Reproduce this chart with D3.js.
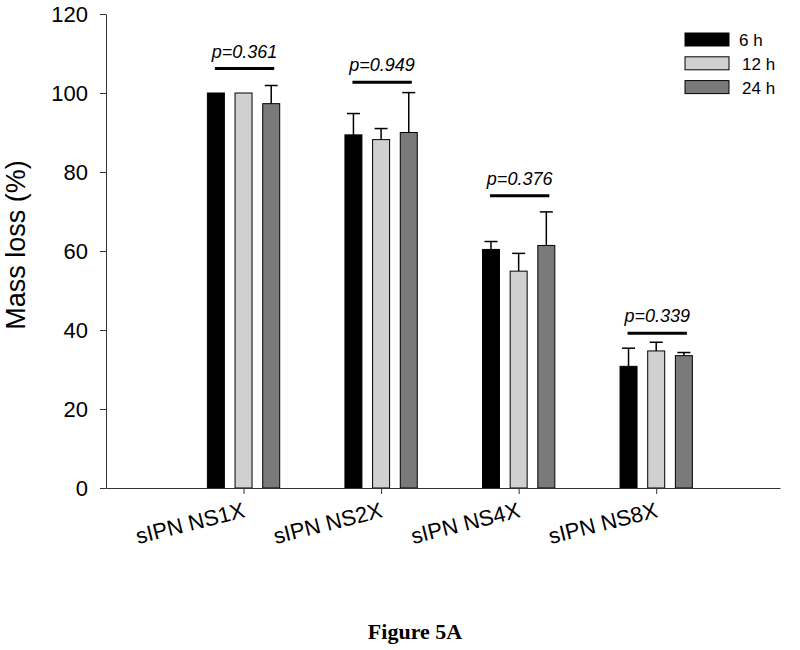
<!DOCTYPE html>
<html><head><meta charset="utf-8">
<script src="https://cdn.jsdelivr.net/npm/d3@7"></script>
<style>body{margin:0;background:#fff}svg{display:block}</style>
</head><body>
<svg id="c" width="800" height="650"></svg>
<script>
const categories = ["sIPN NS1X", "sIPN NS2X", "sIPN NS4X", "sIPN NS8X"];
const seriesNames = ["6 h", "12 h", "24 h"];
const values6h  = [100, 89.4, 60.4, 30.8];
const values12h = [100, 88.2, 54.9, 34.7];
const values24h = [97.3, 90.0, 61.4, 33.5];
const err6h  = [0, 5.4, 2.0, 4.6];
const err12h = [0, 2.8, 4.5, 2.2];
const err24h = [4.6, 10.1, 8.5, 0.8];
const pLabels = ["p=0.361", "p=0.949", "p=0.376", "p=0.339"];
const pLevels = [106.2, 102.7, 74, 39.2];
const yTicks = [0, 20, 40, 60, 80, 100, 120];
const colors = ["#000000", "#d0d0d0", "#7a7a7a"];

const vals = [values6h, values12h, values24h];
const errs = [err6h, err12h, err24h];

const svg = d3.select("#c");
const font = "'Liberation Sans', Arial, sans-serif";
const y = d3.scaleLinear().domain([0, 120]).range([488, 14]);
const x = d3.scaleLinear().domain([0, 4.9]).range([106, 780]);
const sub = d3.scaleBand().domain(seriesNames).range([-41.5, 41.5]).paddingInner(0.386).paddingOuter(0.193);

// bars
seriesNames.forEach((s, si) => {
  const g = svg.append("g");
  categories.forEach((c, ci) => {
    const bx = x(ci + 1) + sub(s);
    const v = vals[si][ci], e = errs[si][ci];
    g.append("rect").attr("x", bx).attr("y", y(v)).attr("width", sub.bandwidth())
      .attr("height", y(0) - y(v)).attr("fill", colors[si]).attr("stroke", "#000").attr("stroke-width", 1);
    if (e > 0) {
      const cx = bx + sub.bandwidth() / 2;
      g.append("line").attr("x1", cx).attr("x2", cx).attr("y1", y(v)).attr("y2", y(v + e))
        .attr("stroke", "#000").attr("stroke-width", 1.5);
      g.append("line").attr("x1", cx - 6.5).attr("x2", cx + 6.5).attr("y1", y(v + e)).attr("y2", y(v + e))
        .attr("stroke", "#000").attr("stroke-width", 1.5);
    }
  });
});

// p-value annotations
categories.forEach((c, ci) => {
  const x1 = x(ci + 1) + sub(seriesNames[0]) + sub.bandwidth() / 2 - 1;
  const x2 = x(ci + 1) + sub(seriesNames[2]) + sub.bandwidth() / 2 + 3;
  svg.append("line").attr("x1", x1).attr("x2", x2).attr("y1", y(pLevels[ci])).attr("y2", y(pLevels[ci]))
    .attr("stroke", "#000").attr("stroke-width", 3);
  svg.append("text").attr("x", (x1 + x2) / 2).attr("y", y(pLevels[ci]) - 11)
    .attr("text-anchor", "middle").attr("font-family", font).attr("font-size", 18)
    .attr("font-style", "italic").text(pLabels[ci]);
});

// y axis
const ya = svg.append("g").attr("transform", "translate(106,0)")
  .call(d3.axisLeft(y).tickValues(yTicks).tickSize(6).tickSizeOuter(0).tickPadding(12));
ya.select(".domain").attr("stroke", "#333");
ya.selectAll(".tick line").attr("stroke", "#333");
ya.selectAll("text").attr("font-family", font).attr("font-size", 22).attr("fill", "#000");

// x axis
const xa = svg.append("g").attr("transform", "translate(0,488)")
  .call(d3.axisBottom(x).tickValues([1, 2, 3, 4]).tickFormat(d => categories[d - 1]).tickSize(6).tickSizeOuter(0));
xa.select(".domain").attr("stroke", "#333");
xa.selectAll(".tick line").attr("stroke", "#333");
xa.selectAll("text").attr("font-family", font).attr("font-size", 22).attr("fill", "#000")
  .attr("text-anchor", "end").attr("dy", null).attr("y", 0)
  .attr("transform", "translate(2,29) rotate(-14)");

// y label
svg.append("text").attr("transform", "translate(25,245) rotate(-90)").attr("text-anchor", "middle")
  .attr("font-family", font).attr("font-size", 27).text("Mass loss (%)");

// legend
const lg = svg.append("g").attr("transform", "translate(685,33)");
seriesNames.forEach((s, i) => {
  lg.append("rect").attr("x", 0).attr("y", i * 23.8).attr("width", 44).attr("height", 13)
    .attr("fill", colors[i]).attr("stroke", "#000").attr("stroke-width", 1);
  lg.append("text").attr("x", s.length < 4 ? 54 : 57).attr("y", i * 23.8 + 13)
    .attr("font-family", font).attr("font-size", 17).text(s);
});

// caption
svg.append("text").attr("x", 415).attr("y", 639).attr("text-anchor", "middle")
  .attr("font-family", "'Liberation Serif', 'Times New Roman', serif").attr("font-weight", "bold")
  .attr("font-size", 22).text("Figure 5A");
</script>
</body></html>
